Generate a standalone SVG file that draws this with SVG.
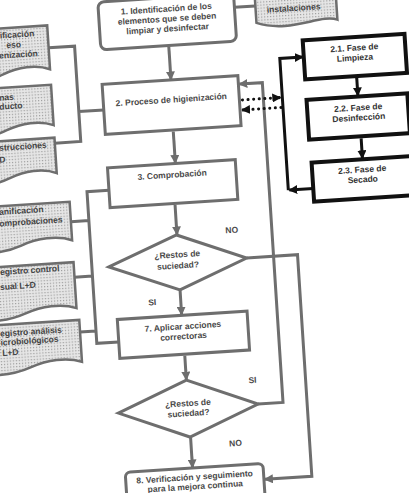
<svg xmlns="http://www.w3.org/2000/svg" width="409" height="493" viewBox="0 0 409 493">
<defs>
<pattern id="dots" width="3" height="3" patternUnits="userSpaceOnUse"><rect width="3" height="3" fill="#e6e6e6"/><rect width="1.2" height="1.2" fill="#9c9c9c"/></pattern>
<marker id="ag" markerUnits="userSpaceOnUse" markerWidth="9" markerHeight="9" refX="8" refY="4.5" orient="auto"><path d="M0,0 L9,4.5 L0,9 z" fill="#6e6e6e"/></marker>
<marker id="ak" markerUnits="userSpaceOnUse" markerWidth="9" markerHeight="9" refX="8" refY="4.5" orient="auto"><path d="M0,0 L9,4.5 L0,9 z" fill="#111"/></marker>
<style>
.box{fill:#fff;stroke:#6e6e6e;stroke-width:3}
.bk{fill:#fff;stroke:#111;stroke-width:4}
.doc{fill:url(#dots);stroke:#6e6e6e;stroke-width:2.5}
.ln{fill:none;stroke:#6e6e6e;stroke-width:3}
.lk{fill:none;stroke:#111;stroke-width:3}
.dt{fill:none;stroke:#111;stroke-width:3;stroke-linecap:round;stroke-dasharray:0.1 5.5}
text{font-family:"Liberation Sans",Arial,sans-serif;font-weight:bold;font-size:8.5px;fill:#4a4a4a}
.c{text-anchor:middle}
.kt{fill:#333}
.dtx{fill:#444}
</style>
</defs>
<rect width="409" height="493" fill="#fff"/>
<g transform="rotate(-3.7 200 250)">
<g id="connectors">
<path class="ln" d="M182,45 V78" marker-end="url(#ag)"/>
<path class="ln" d="M181,130 V161.5" marker-end="url(#ag)"/>
<path class="ln" d="M178,203.5 V233" marker-end="url(#ag)"/>
<path class="ln" d="M177.5,289 V313.5" marker-end="url(#ag)"/>
<path class="ln" d="M178,354.5 V378.5" marker-end="url(#ag)"/>
<path class="ln" d="M178.5,436.5 V466.5" marker-end="url(#ag)"/>
<path class="ln" d="M246,261 H297 V483 H250" marker-end="url(#ag)"/>
<path class="ln" d="M248,407.5 H273 V87 H250" marker-end="url(#ag)"/>
<path class="ln" d="M250,10 H271"/>
<path class="ln" d="M62,38.5 H88 V134 H62 M88,104 H113"/>
<path class="ln" d="M113,184.5 H91 V336.5 H113 M73,213.5 H91 M73,269 H91 M75,324 H91"/>
<path class="lk" d="M367.5,88 V106" marker-end="url(#ak)"/>
<path class="lk" d="M368,149 V169" marker-end="url(#ak)"/>
<path class="lk" d="M292,196 V64 H315" marker-end="url(#ak)"/>
<path class="lk" d="M317,196 H293" marker-end="url(#ak)"/>
<path class="dt" d="M252,103 H284"/>
<path class="lk" d="M284,103 H290" marker-end="url(#ak)"/>
<path class="dt" d="M290,113 H258"/>
<path class="lk" d="M256,113 H251" marker-end="url(#ak)"/>
<text class="c" x="233" y="235">NO</text>
<text class="c" x="149" y="302">SI</text>
<text class="c" x="244" y="386">SI</text>
<text class="c" x="223" y="448">NO</text>
</g>
<g id="n1"><rect class="box" x="114" y="-4" width="136" height="48" rx="6"/>
<text class="c" x="182" y="10">1. Identificación de los</text><text class="c" x="182" y="20">elementos que se deben</text><text class="c" x="182" y="30">limpiar y desinfectar</text></g>
<g id="d0"><path class="doc" d="M271,-30 H352 V29 C335,22 305,40 271,27 Z"/><text class="c dtx" x="309" y="17.5">instalaciones</text></g>
<g id="n2"><rect class="box" x="113" y="78.5" width="136" height="50"/><text class="c" x="181" y="101">2. Proceso de higienización</text></g>
<g id="n3"><rect class="box" x="113" y="162" width="128" height="40"/><text class="c" x="177" y="176">3. Comprobación</text></g>
<g id="d1"><polygon class="box" points="108,261 177.5,233.5 246,261 177.5,288.5"/><text class="c" x="177" y="256">¿Restos de</text><text class="c" x="177" y="267">suciedad?</text></g>
<g id="n7"><rect class="box" x="113" y="314" width="130" height="39"/><text class="c" x="178" y="328">7. Aplicar acciones</text><text class="c" x="178" y="338">correctoras</text></g>
<g id="d2"><polygon class="box" points="108,407.5 178,379 248,407.5 178,436"/><text class="c" x="178" y="405">¿Restos de</text><text class="c" x="178" y="415">suciedad?</text></g>
<g id="n8"><rect class="box" x="111" y="467" width="138" height="45" rx="5"/><text class="c" x="180" y="479">8. Verificación y seguimiento</text><text class="c" x="180" y="488.5">para la mejora continua</text></g>
<g id="n21"><rect class="bk" x="316" y="47.5" width="102" height="39"/><text class="c kt" x="367" y="61">2.1. Fase de</text><text class="c kt" x="367" y="71">Limpieza</text></g>
<g id="n22"><rect class="bk" x="316" y="107" width="101" height="40"/><text class="c kt" x="367" y="121">2.2. Fase de</text><text class="c kt" x="367" y="131">Desinfección</text></g>
<g id="n23"><rect class="bk" x="317" y="170" width="100" height="39"/><text class="c kt" x="367" y="183">2.3. Fase de</text><text class="c kt" x="367" y="193">Secado</text></g>
<g id="docA"><path class="doc" d="M-40,16 H62 V60 C48,54 30,56 15,62 S-20,70 -40,64 Z"/><text class="dtx" x="14" y="26">ificación</text><text class="dtx" x="20" y="36">eso</text><text class="dtx" x="12" y="46">enización</text></g>
<g id="docB"><path class="doc" d="M-40,75.5 H62 V116 C48,110 30,112 15,118 S-20,126 -40,120 Z"/><text class="dtx" x="9.5" y="88">nas</text><text class="dtx" x="9" y="97">ducto</text></g>
<g id="docC"><path class="doc" d="M-40,128.5 H62 V164 C48,158 30,160 15,166 S-20,174 -40,168 Z"/><text class="dtx" x="6" y="138">strucciones</text><text class="dtx" x="5.5" y="150">D</text></g>
<g id="docD"><path class="doc" d="M-40,193.5 H73 V232 C58,226 38,228 22,234 S-15,242 -40,236 Z"/><text class="dtx" x="2" y="202">anificación</text><text class="dtx" x="1.5" y="213.5">omprobaciones</text></g>
<g id="docE"><path class="doc" d="M-40,254 H73 V300 C58,294 38,296 22,302 S-15,310 -40,304 Z"/><text class="dtx" x="-1" y="262">egistro control</text><text class="dtx" x="-2" y="277">sual L+D</text></g>
<g id="docF"><path class="doc" d="M-40,312 H75 V354 C60,348 40,350 24,356 S-15,364 -40,358 Z"/><text class="dtx" x="-5" y="323.5">egistro análisis</text><text class="dtx" x="-5" y="332.5">icrobiológicos</text><text class="dtx" x="-4" y="343">L+D</text></g>
</g>
</svg>
